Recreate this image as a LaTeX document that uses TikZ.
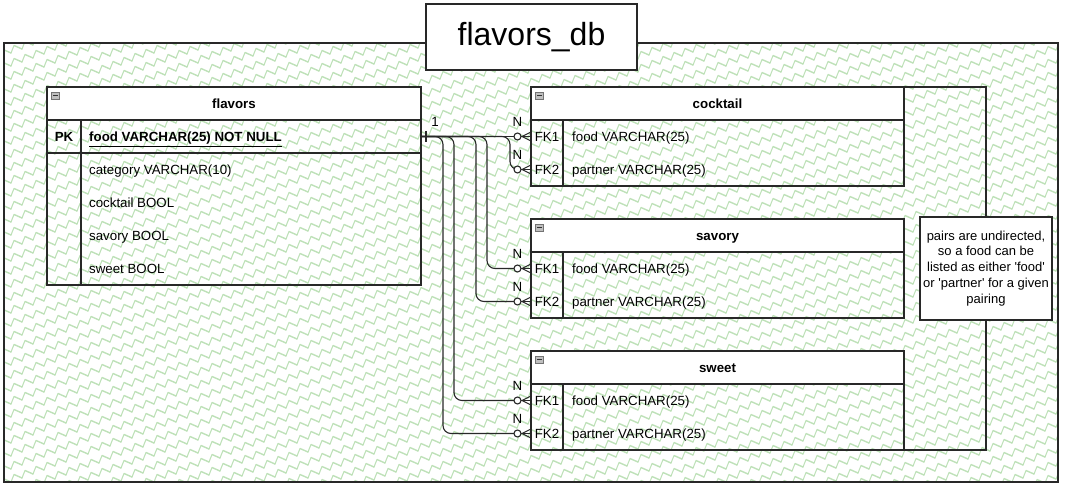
\documentclass[tikz,border=0pt]{standalone}
\usepackage{fontspec}
\setmainfont{Liberation Sans}
\usetikzlibrary{patterns.meta,calc}
\definecolor{zigc}{RGB}{190,225,184}
\definecolor{bord}{RGB}{40,40,40}
\pgfdeclarepattern{
  name=zigzag,
  type=colored,
  bottom left={\pgfpoint{-1pt}{-1pt}},
  top right={\pgfpoint{12pt}{14pt}},
  tile size={\pgfpoint{11pt}{13pt}},
  tile transformation={\pgftransformyslant{0.3636}},
  code={
    \pgfsetlinewidth{1.2pt}
    \pgfsetstrokecolor{zigc}
    \pgfsetroundjoin
    \pgfsetroundcap
    \pgfpathmoveto{\pgfpoint{-0.3pt}{0.24pt}}
    \pgfpathlineto{\pgfpoint{0pt}{0pt}}
    \pgfpathlineto{\pgfpoint{3pt}{6.409pt}}
    \pgfpathlineto{\pgfpoint{11pt}{0pt}}
    \pgfpathlineto{\pgfpoint{11.3pt}{0.641pt}}
    \pgfusepath{stroke}
  }
}
\begin{document}
\begin{tikzpicture}[x=1pt,y=-1pt,
  every node/.style={font=\fontsize{13.3}{16}\selectfont, text=black},
  tbl/.style={draw=bord, line width=1.1pt, inner sep=0pt, outer sep=0pt, anchor=north west},
  hdr/.style={tbl, fill=white},
  rowbox/.style={inner sep=0pt, outer sep=0pt, anchor=north west, minimum height=33pt},
  lbl/.style={inner sep=0pt, anchor=base west},
  ctr/.style={inner sep=0pt, anchor=base},
  tline/.style={draw=bord, line width=1.1pt},
  conn/.style={draw=bord, line width=1.1pt, rounded corners=8pt},
  circ/.style={draw=bord, circle, line width=1.1pt, minimum size=7pt, inner sep=0pt, outer sep=0pt, fill=white},
  minusbox/.style={draw=black!55, fill=black!25, line width=0.6pt, minimum width=7.5pt, minimum height=7pt, inner sep=0pt,
    path picture={\draw[black!80, line width=0.9pt] ([xshift=1.6pt]path picture bounding box.west) -- ([xshift=-1.6pt]path picture bounding box.east);}}
]
\useasboundingbox (0,0) rectangle (1065,486);

% container
\node[draw=bord, line width=1.2pt, pattern=zigzag, minimum width=1054pt, minimum height=439pt, inner sep=0pt, outer sep=0pt, anchor=north west] (outer) at (4,43) {};
\node[draw=bord, fill=white, line width=1.1pt, minimum width=211pt, minimum height=66pt, inner sep=0pt, font=\fontsize{32}{38}\selectfont] (title) at (531.5,37) {flavors\_db};

% ---------- flavors table ----------
\node[tbl, minimum width=374pt, minimum height=198pt] (ftab) at (47,87) {};
\node[hdr, minimum width=374pt, minimum height=33pt] (fhead) at (47,87) {};
\node[ctr] (fname) at (234,108.3) {\bfseries flavors};
\node[minusbox] (fmin) at (55.5,95.5) {};
\draw[tline] (47,153) -- (421,153);
\draw[tline] (81,120) -- (81,285);
\node[rowbox, minimum width=374pt] (fpk) at (47,120) {};
\node[ctr] (fpkk) at (64,141.8) {\bfseries PK};
\node[lbl] (fpkt) at (89,141.8) {\bfseries\underline{food VARCHAR(25) NOT NULL}};
\node[lbl] (fcat) at (89,174.8) {category VARCHAR(10)};
\node[lbl] (fcoc) at (89,207.8) {cocktail BOOL};
\node[lbl] (fsav) at (89,240.8) {savory BOOL};
\node[lbl] (fswe) at (89,273.8) {sweet BOOL};

% ---------- cocktail table ----------
\node[tbl, minimum width=373pt, minimum height=99pt] (ctab) at (531,87) {};
\node[hdr, minimum width=373pt, minimum height=33pt] (chead) at (531,87) {};
\node[ctr] (cname) at (717.5,108.3) {\bfseries cocktail};
\node[minusbox] (cmin) at (539.5,95.5) {};
\draw[tline] (563,120) -- (563,186);
\node[rowbox, minimum width=373pt] (c1) at (531,120) {};
\node[rowbox, minimum width=373pt] (c2) at (531,153) {};
\node[ctr] (c1k) at (547,141.8) {FK1};
\node[ctr] (c2k) at (547,174.8) {FK2};
\node[lbl] (c1t) at (572,141.8) {food VARCHAR(25)};
\node[lbl] (c2t) at (572,174.8) {partner VARCHAR(25)};

% ---------- savory table ----------
\node[tbl, minimum width=373pt, minimum height=99pt] (stab) at (531,219) {};
\node[hdr, minimum width=373pt, minimum height=33pt] (shead) at (531,219) {};
\node[ctr] (sname) at (717.5,240.3) {\bfseries savory};
\node[minusbox] (smin) at (539.5,227.5) {};
\draw[tline] (563,252) -- (563,318);
\node[rowbox, minimum width=373pt] (s1) at (531,252) {};
\node[rowbox, minimum width=373pt] (s2) at (531,285) {};
\node[ctr] (s1k) at (547,273.8) {FK1};
\node[ctr] (s2k) at (547,306.8) {FK2};
\node[lbl] (s1t) at (572,273.8) {food VARCHAR(25)};
\node[lbl] (s2t) at (572,306.8) {partner VARCHAR(25)};

% ---------- sweet table ----------
\node[tbl, minimum width=373pt, minimum height=99pt] (wtab) at (531,351) {};
\node[hdr, minimum width=373pt, minimum height=33pt] (whead) at (531,351) {};
\node[ctr] (wname) at (717.5,372.3) {\bfseries sweet};
\node[minusbox] (wmin) at (539.5,359.5) {};
\draw[tline] (563,384) -- (563,450);
\node[rowbox, minimum width=373pt] (w1) at (531,384) {};
\node[rowbox, minimum width=373pt] (w2) at (531,417) {};
\node[ctr] (w1k) at (547,405.8) {FK1};
\node[ctr] (w2k) at (547,438.8) {FK2};
\node[lbl] (w1t) at (572,405.8) {food VARCHAR(25)};
\node[lbl] (w2t) at (572,438.8) {partner VARCHAR(25)};

% ---------- note ----------
\node[draw=bord, fill=white, line width=1.1pt, minimum width=132pt, minimum height=103pt, inner sep=0pt, align=center,
  font=\fontsize{13}{15.9}\selectfont] (note) at (986,268.5)
  {pairs are undirected,\\so a food can be\\listed as either \textquotesingle food\textquotesingle\\or \textquotesingle partner\textquotesingle\ for a given\\pairing};
\draw[tline] (note.north) |- (ctab.north east);
\draw[tline] (note.south) |- (wtab.south east);

% ---------- relationships ----------
\draw[conn] (fpk.east) -- ($(c1.west)+(-17,0)$);
\foreach \t/\d in {c2/89, s1/66, s2/55, w1/33, w2/22}
  \draw[conn] (fpk.east) -- ++(\d,0) |- ($(\t.west)+(-17,0)$);
\foreach \t in {c1,c2,s1,s2,w1,w2} {
  \node[circ] (o\t) at ($(\t.west)+(-13.5,0)$) {};
  \draw[tline] (o\t.east) -- (\t.west);
  \draw[tline] ($(\t.west)+(-9,0)$) -- ($(\t.west)+(0,-4.5)$);
  \draw[tline] ($(\t.west)+(-9,0)$) -- ($(\t.west)+(0,4.5)$);
  \node[ctr] (n\t) at ($(\t.west)+(-13.5,-10)$) {N};
}
\draw[tline] ($(fpk.east)+(5,-5.5)$) -- ($(fpk.east)+(5,5.5)$);
\node[ctr] (one) at ($(fpk.east)+(14,-10)$) {1};
\end{tikzpicture}
\end{document}
